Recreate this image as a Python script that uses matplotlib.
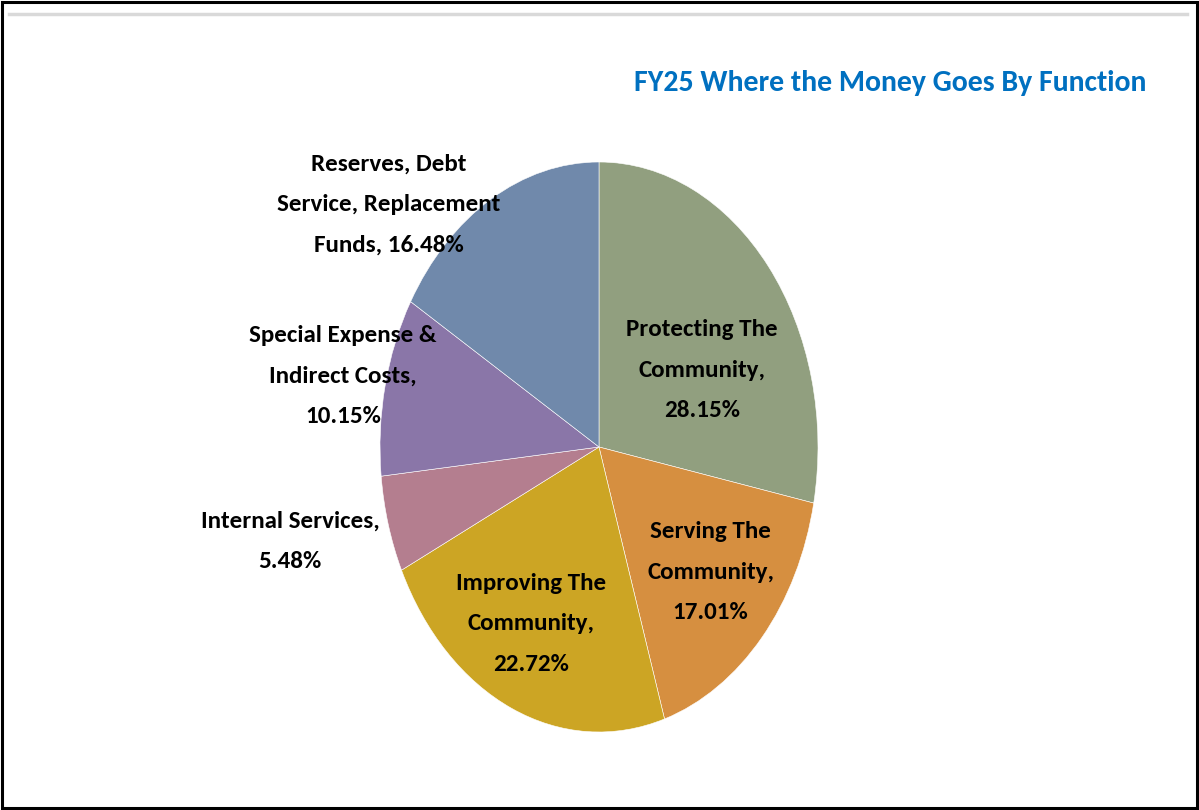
import matplotlib
matplotlib.use("Agg")
import matplotlib.pyplot as plt

# data (clockwise from 12 o'clock)
categories = ["Protecting The\nCommunity,", "Serving The\nCommunity,", "Improving The\nCommunity,",
              "Internal Services,", "Special Expense &\nIndirect Costs,",
              "Reserves, Debt\nService, Replacement\nFunds,"]
shares = [28.15, 17.01, 22.72, 5.48, 10.15, 16.48]
colors = ["#919f7f", "#d68f40", "#cca524", "#b47e8f", "#8a76a8", "#7089ab"]

# label block centres in pie units (x, y), style only
label_pos = [(0.47, 0.27), (0.51, -0.44), (-0.31, -0.62), (-1.41, -0.33), (-1.17, 0.25), (-0.96, 0.85)]
# how the percent joins the label text
joiner = ["\n", "\n", "\n", "\n", "\n", " "]

font = ["Carlito", "DejaVu Sans"]

W, H = 1199, 810
fig = plt.figure(figsize=(W / 100, H / 100), dpi=100)

# outer frame and grey rule
fig.add_artist(plt.Rectangle((0.002, 0.002), 0.996, 0.996, transform=fig.transFigure,
                             fill=False, ec="black", lw=2.2))
fig.add_artist(plt.Line2D([9 / W, 1187 / W], [1 - 14 / H, 1 - 14 / H], transform=fig.transFigure,
                          color="#d9d9d9", lw=2.5))

fig.text(890 / W, 1 - 83 / H, "FY25 Where the Money Goes By Function", color="#0070c0",
         fontsize=21.5, fontweight="bold", family=font, ha="center", va="center")

ax = fig.add_axes([380 / W, 78 / H, 438 / W, 570 / H])
ax.pie(shares, colors=colors, startangle=90, counterclock=False,
       wedgeprops=dict(edgecolor="white", linewidth=0.4))
ax.set_aspect("auto")
ax.set_xlim(-1, 1)
ax.set_ylim(-1, 1)
ax.axis("off")

for name, val, j, (x, y) in zip(categories, shares, joiner, label_pos):
    ax.text(x, y, f"{name}{j}{val:.2f}%", ha="center", va="center", multialignment="center",
            fontsize=18, fontweight="bold", family=font, linespacing=2.15, color="black")

fig.savefig("out.png", dpi=100)
